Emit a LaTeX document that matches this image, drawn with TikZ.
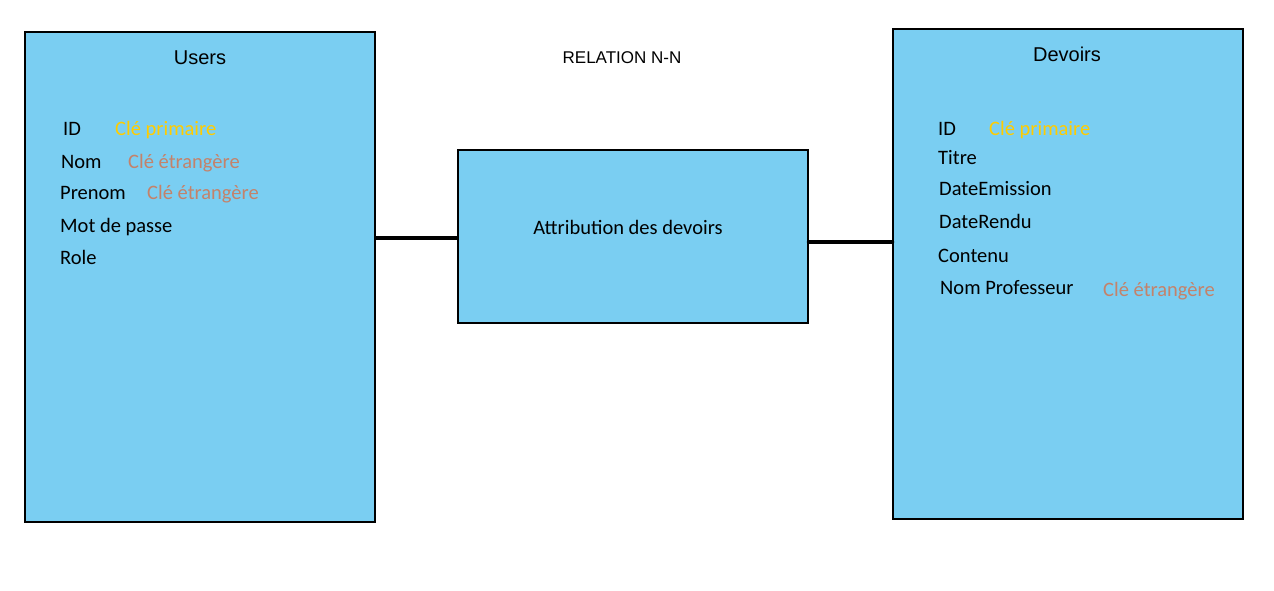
\documentclass[tikz,border=0pt]{standalone}
\usepackage{fontspec}
\setmainfont{Carlito}
\newfontfamily\arialfont{Liberation Sans}
\definecolor{bleuentite}{HTML}{7ACEF2}
\definecolor{jauneclef}{HTML}{FFCC00}
\definecolor{brunclef}{HTML}{C4826A}
\tikzstyle{entite} = [rectangle, minimum width=350pt, minimum height=490pt, draw=black, line width=1.5pt, fill=bleuentite]
\tikzstyle{relation} = [rectangle, minimum width=350pt, minimum height=173pt, draw=black, line width=1.5pt, fill=bleuentite]
\tikzstyle{titre} = [inner sep=0pt, anchor=base, font=\arialfont\fontsize{20}{24}\selectfont]
\tikzstyle{champ} = [inner sep=0pt, anchor=base west, font=\fontsize{20.5}{24}\selectfont]
\tikzstyle{primaire} = [champ, text=jauneclef]
\tikzstyle{etrangere} = [champ, text=brunclef]
\tikzstyle{lien} = [line width=4pt]

\begin{document}
\begin{tikzpicture}[x=1pt, y=-1pt]
    \useasboundingbox (0,0) rectangle (1274,590);
    	% Entites
    	\node (users) [entite] at (200,277) {};
    	\node (devoirs) [entite] at (1068,274) {};
    	\node (attrib) [relation] at (633,236.5) {};
    	% Titres
    	\node (tusers) [titre] at (200,64) {Users};
    	\node (tdevoirs) [titre] at (1067,61) {Devoirs};
    	\node (trelation) [titre, font=\arialfont\fontsize{17}{20}\selectfont] at (622,63) {RELATION N-N};
    	\node (tattrib) [champ, anchor=base] at (628,234.5) {Attribution des devoirs};
    	% Champs Users
    	\node (uid) [champ] at (63,135) {ID};
    	\node (uidk) [primaire] at (115,135) {Clé primaire};
    	\node (unom) [champ] at (61,168) {Nom};
    	\node (unomk) [etrangere] at (128,168) {Clé étrangère};
    	\node (uprenom) [champ] at (60,199) {Prenom};
    	\node (uprenomk) [etrangere] at (147,199) {Clé étrangère};
    	\node (umdp) [champ] at (60,232) {Mot de passe};
    	\node (urole) [champ] at (60,264) {Role};
    	% Champs Devoirs
    	\node (did) [champ] at (938,135) {ID};
    	\node (didk) [primaire] at (989,135) {Clé primaire};
    	\node (dtitre) [champ] at (938,164) {Titre};
    	\node (demission) [champ] at (939,195) {DateEmission};
    	\node (drendu) [champ] at (939,228) {DateRendu};
    	\node (dcontenu) [champ] at (938,262) {Contenu};
    	\node (dprof) [champ] at (940,294) {Nom Professeur};
    	\node (dprofk) [etrangere] at (1103,296) {Clé étrangère};
    	% Liens
        \draw[lien] ([yshift=-1.5pt]attrib.west) -- ([yshift=-1.5pt]attrib.west -| users.east);
        \draw[lien, line cap=round] ([yshift=-5.5pt]attrib.east) -- ([yshift=-5.5pt]attrib.east -| devoirs.west);

    \end{tikzpicture}
\end{document}
